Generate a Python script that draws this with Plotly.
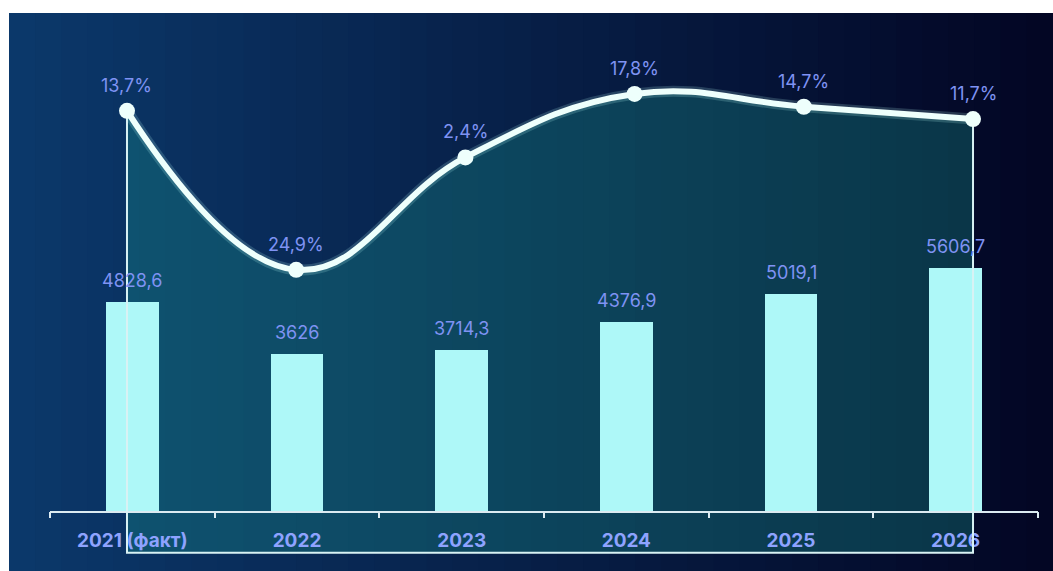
import plotly.graph_objects as go

# ---------------- data ----------------
categories = ["2021 (факт)", "2022", "2023", "2024", "2025", "2026"]
volumes = [4828.6, 3626, 3714.3, 4376.9, 5019.1, 5606.7]
volume_labels = ["4828,6", "3626", "3714,3", "4376,9", "5019,1", "5606,7"]
growth = [13.7, -24.9, 2.4, 17.8, 14.7, 11.7]
growth_labels = ["13,7%", "24,9%", "2,4%", "17,8%", "14,7%", "11,7%"]
idx = list(range(len(categories)))

# ---------------- styling ----------------
W, H = 1053, 571
BAR = "#aef8f8"
LINE = "#eefffc"
TXT = "#7f93f3"
FONT = "Inter"
BASE = -93.6          # bottom of the outline frame (growth axis units)
Y3RANGE = [-98.0, 37.45]
X3RANGE = [-0.455, 5.384]
XDOM = [50 / W, 1038 / W]
TOP = (H - 13) / H

fig = go.Figure()

# fill under the growth curve (primary axes, drawn below bars)
fig.add_trace(go.Scatter(x=idx, y=[BASE] * len(idx), mode="lines",
                         line=dict(width=0, color="rgba(0,0,0,0)"),
                         hoverinfo="skip", showlegend=False, xaxis="x", yaxis="y"))
fig.add_trace(go.Scatter(x=idx, y=growth, mode="lines", fill="tonexty",
                         fillcolor="rgba(24,150,140,0.32)",
                         line=dict(width=0, shape="spline", smoothing=1.2, color="rgba(0,0,0,0)"),
                         hoverinfo="skip", showlegend=False, xaxis="x", yaxis="y"))

# bars
fig.add_trace(go.Bar(x=idx, y=volumes, width=0.32, marker=dict(color=BAR, line=dict(width=0)),
                     showlegend=False, xaxis="x2", yaxis="y2"))

# outline frame
fig.add_trace(go.Scatter(x=[idx[0], idx[0], idx[-1], idx[-1]],
                         y=[growth[0], BASE, BASE, growth[-1]],
                         mode="lines", line=dict(color="#d8f2f4", width=2),
                         hoverinfo="skip", showlegend=False, xaxis="x3", yaxis="y3"))
# glow
fig.add_trace(go.Scatter(x=idx, y=growth, mode="lines",
                         line=dict(color="rgba(190,255,250,0.18)", width=11, shape="spline", smoothing=1.2),
                         hoverinfo="skip", showlegend=False, xaxis="x3", yaxis="y3"))
# growth line
fig.add_trace(go.Scatter(x=idx, y=growth, mode="lines+markers",
                         line=dict(color=LINE, width=6, shape="spline", smoothing=1.2),
                         marker=dict(size=16, color=LINE),
                         showlegend=False, xaxis="x3", yaxis="y3"))

annotations = []
for i, v, t in zip(idx, volumes, volume_labels):
    annotations.append(dict(x=i, y=v, xref="x2", yref="y2", text=t, showarrow=False,
                            yanchor="bottom", yshift=9,
                            font=dict(family=FONT, size=18, color=TXT)))
for i, g, t in zip(idx, growth, growth_labels):
    annotations.append(dict(x=i, y=g, xref="x3", yref="y3", text=t, showarrow=False,
                            yanchor="bottom", yshift=13,
                            font=dict(family=FONT, size=18, color=TXT)))

# background gradient (left blue -> right deep navy)
def lerp(a, b, t):
    return int(round(a + (b - a) * t))

c0 = (11, 56, 106)
c1 = (3, 6, 36)
shapes = []
N = 40
x_start = 9 / W
for k in range(N):
    t = k / (N - 1)
    tt = t ** 1.0
    col = "rgb(%d,%d,%d)" % (lerp(c0[0], c1[0], tt), lerp(c0[1], c1[1], tt), lerp(c0[2], c1[2], tt))
    x0 = x_start + (1 - x_start) * k / N
    x1 = x_start + (1 - x_start) * (k + 1) / N + 0.001
    shapes.append(dict(type="rect", xref="paper", yref="paper", x0=x0, x1=min(x1, 1),
                       y0=0, y1=TOP, fillcolor=col, line=dict(width=0), layer="below"))

hidden = dict(visible=False, fixedrange=True, automargin=False)
fig.update_layout(
    width=W, height=H,
    margin=dict(l=0, r=0, t=0, b=0, autoexpand=False),
    paper_bgcolor="white",
    plot_bgcolor="rgba(0,0,0,0)",
    shapes=shapes,
    annotations=annotations,
    bargap=0,
    xaxis=dict(domain=XDOM, range=X3RANGE, anchor="y", **hidden),
    yaxis=dict(domain=[0, TOP], range=Y3RANGE, anchor="x", **hidden),
    xaxis2=dict(domain=XDOM, anchor="y2", range=[-0.5, 5.5],
                tickmode="array", tickvals=idx, ticktext=categories,
                showline=True, linecolor="#dcebf2", linewidth=2,
                ticks="", ticklabelstandoff=11, tickangle=0, automargin=False,
                tickfont=dict(family=FONT, size=19, color="#8ea3ff", weight="bold"),
                showgrid=False, zeroline=False, fixedrange=True),
    xaxis4=dict(domain=XDOM, anchor="y2", overlaying="x2", range=[-0.5, 5.5],
                tickmode="array", tickvals=[k - 0.5 for k in range(len(idx) + 1)],
                showticklabels=False, showline=False,
                ticks="outside", ticklen=6, tickwidth=2, tickcolor="#dcebf2",
                automargin=False, showgrid=False, zeroline=False, fixedrange=True),
    yaxis2=dict(domain=[60 / H, TOP], range=[0, 11506], anchor="x2",
                visible=False, fixedrange=True, automargin=False),
    xaxis3=dict(domain=XDOM, range=X3RANGE, anchor="y3", **hidden),
    yaxis3=dict(domain=[0, TOP], range=Y3RANGE, anchor="x3", **hidden),
)
# invisible helper trace so the boundary ticks of xaxis4 are drawn
fig.add_trace(go.Scatter(x=[idx[0]], y=[volumes[0]], mode="markers", marker=dict(opacity=0),
                         hoverinfo="skip", showlegend=False, xaxis="x4", yaxis="y2"))

fig.write_html("out.html")
